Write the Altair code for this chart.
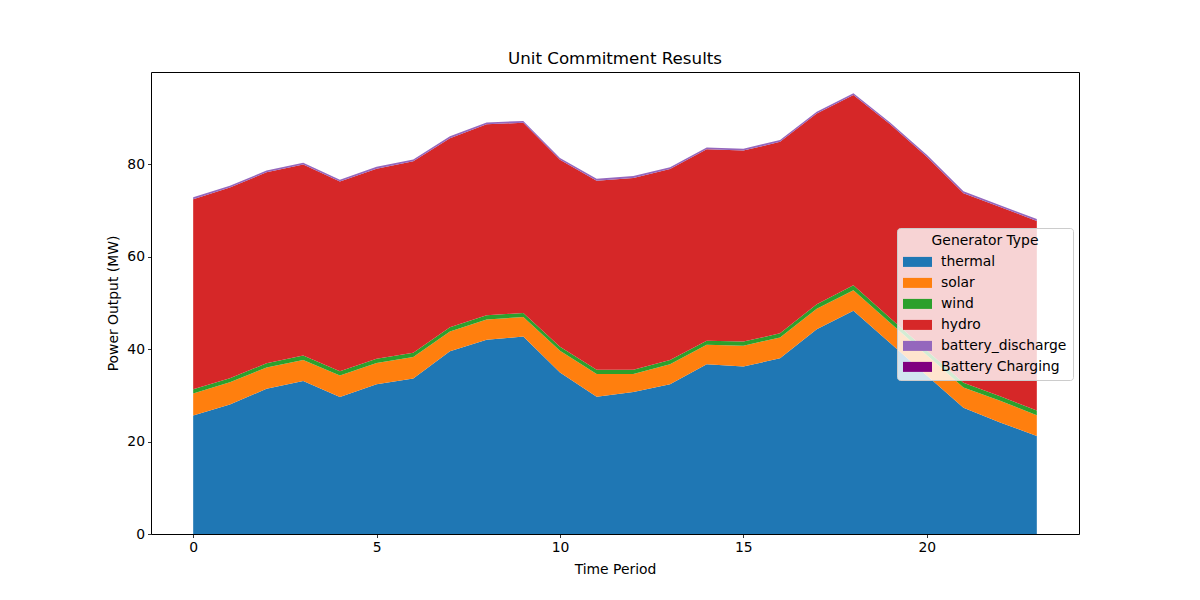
import altair as alt
import pandas as pd

# dispatch per time period (MW)
periods = list(range(24))
thermal = [25.6, 28.0, 31.4, 33.1, 29.6, 32.4, 33.6, 39.5, 42.0, 42.7, 34.9, 29.7,
           30.7, 32.4, 36.7, 36.2, 38.0, 44.3, 48.3, 41.3, 34.3, 27.3, 24.1, 21.2]
solar = [4.8, 4.8, 4.6, 4.5, 4.7, 4.6, 4.7, 4.3, 4.4, 4.2, 4.7, 4.9,
         3.9, 4.3, 4.2, 4.5, 4.5, 4.4, 4.4, 4.4, 4.4, 4.4, 4.7, 4.5]
wind = [0.9, 0.9, 0.9, 1.0, 0.9, 0.9, 0.9, 0.9, 0.9, 0.9, 0.9, 0.9,
        0.9, 0.9, 0.9, 0.9, 0.9, 1.0, 1.1, 1.0, 1.0, 1.0, 1.0, 1.0]
hydro = [41.1, 41.2, 41.3, 41.3, 41.0, 41.1, 41.4, 40.9, 41.3, 41.1, 40.4, 40.9,
         41.5, 41.3, 41.4, 41.3, 41.4, 41.2, 41.1, 41.9, 41.9, 41.0, 40.9, 41.0]
battery_discharge = [0.4] * 24
battery_charging = [0.0] * 24

names = ["thermal", "solar", "wind", "hydro", "battery_discharge", "Battery Charging"]
colors = ["#1f77b4", "#ff7f0e", "#2ca02c", "#d62728", "#9467bd", "#800080"]
series = [thermal, solar, wind, hydro, battery_discharge, battery_charging]

rows = []
for k, (name, vals) in enumerate(zip(names, series)):
    for t, v in zip(periods, vals):
        rows.append({"period": t, "output": v, "gen": name, "k": k})
df = pd.DataFrame(rows)

FONT = "DejaVu Sans"

chart = alt.Chart(
    df,
    title=alt.TitleParams("Unit Commitment Results", fontSize=16.7, fontWeight="normal",
                          font=FONT, color="black", offset=4),
).mark_area(opacity=1).encode(
    x=alt.X("period:Q",
            scale=alt.Scale(domain=[-1.15, 24.15], nice=False, zero=False),
            axis=alt.Axis(values=[0, 5, 10, 15, 20], title="Time Period", format="d",
                          titlePadding=8)),
    y=alt.Y("output:Q", stack="zero",
            scale=alt.Scale(domain=[0, 99.9], nice=False),
            axis=alt.Axis(values=[0, 20, 40, 60, 80], title="Power Output (MW)")),
    color=alt.Color("gen:N",
                    scale=alt.Scale(domain=names, range=colors),
                    legend=alt.Legend(
                        title="Generator Type", orient="none", legendX=746, legendY=156,
                        fillColor="rgba(255,255,255,0.8)", strokeColor="#cccccc",
                        cornerRadius=3, padding=6, titleAnchor="middle",
                        titleFont=FONT, titleFontSize=13.9, titleFontWeight="normal",
                        titleColor="black", titlePadding=4,
                        labelFont=FONT, labelFontSize=13.9, labelColor="black",
                        symbolType="M-1,-0.5H1.9V0.5H-1Z", symbolSize=400,
                        symbolStrokeWidth=0, symbolOpacity=1,
                        labelOffset=18, rowPadding=4)),
    order=alt.Order("k:Q"),
).properties(
    width=928,
    height=462,
    autosize=alt.AutoSizeParams(type="none"),
    padding={"left": 143, "top": 64, "right": 113, "bottom": 58},
).configure_view(
    stroke="black",
    strokeWidth=1,
).configure_axis(
    domain=False,
    grid=False,
    ticks=True,
    tickColor="black",
    tickSize=3.5,
    tickWidth=0.8,
    labelFont=FONT,
    labelFontSize=13.9,
    labelColor="black",
    labelPadding=3,
    titleFont=FONT,
    titleFontSize=13.9,
    titleFontWeight="normal",
    titleColor="black",
    titlePadding=6,
)

chart.save("out.html", embed_options={"renderer": "svg", "actions": False})
